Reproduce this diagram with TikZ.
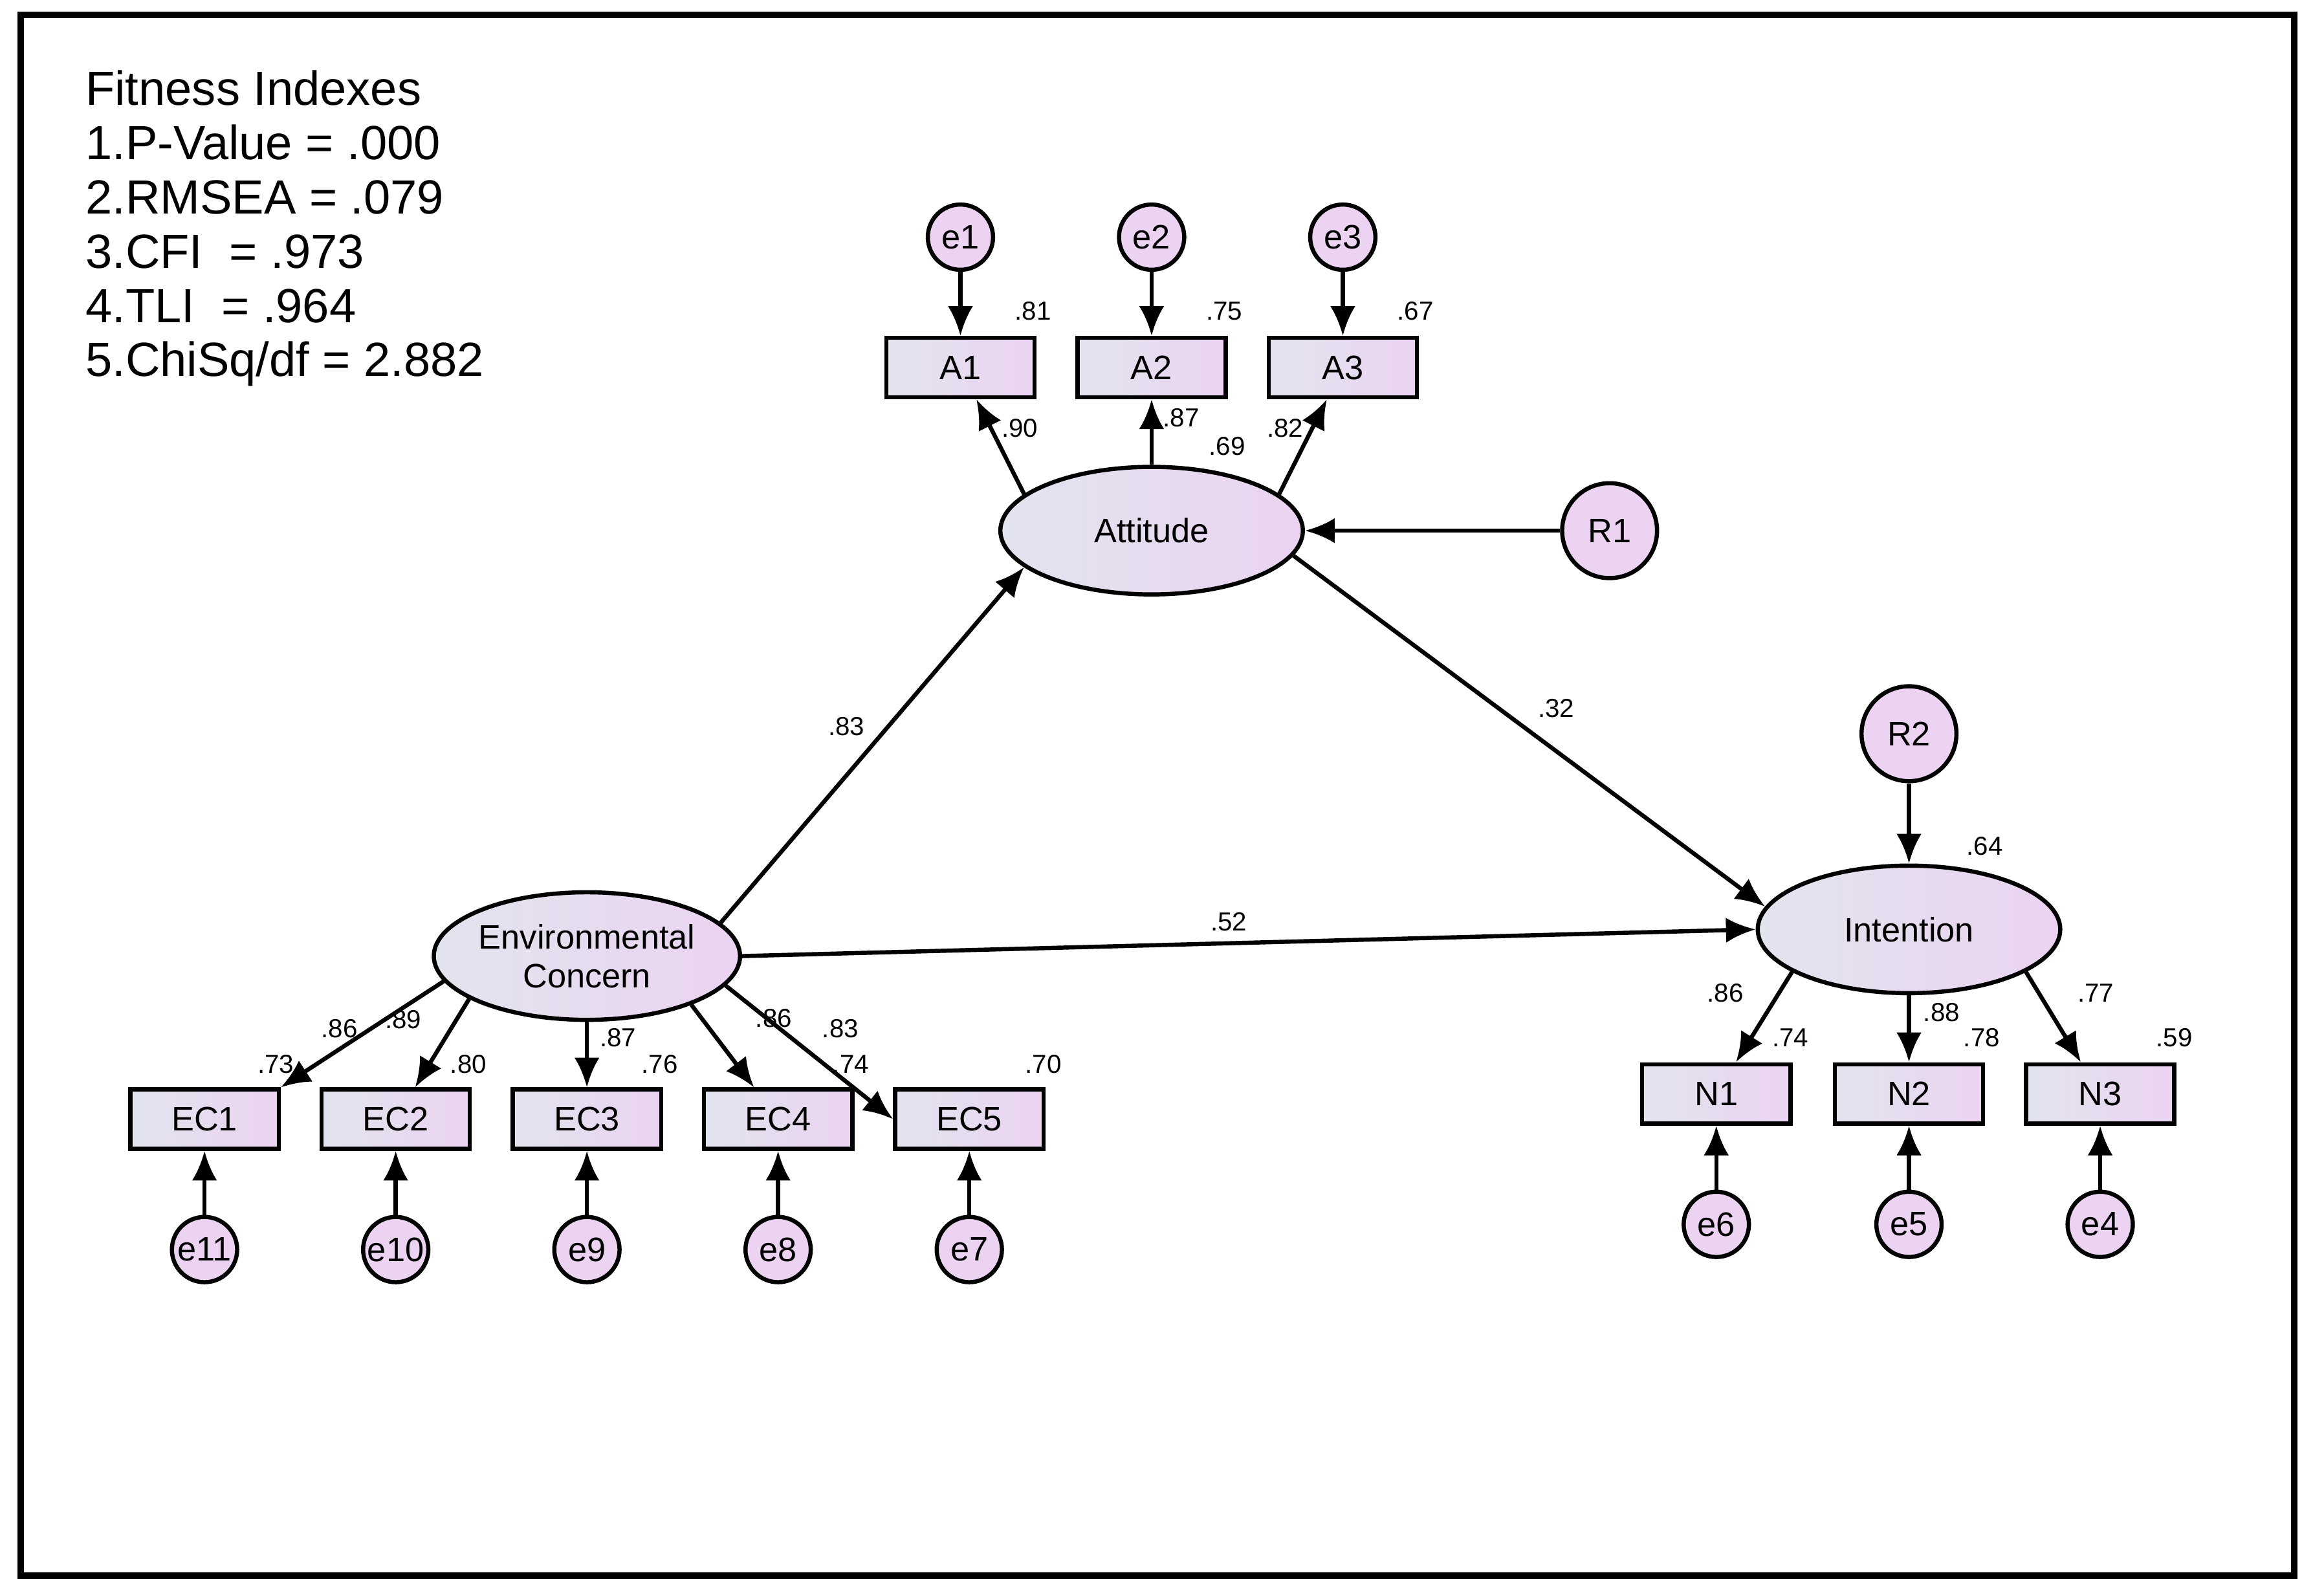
\documentclass[tikz,border=0pt]{standalone}
\usepackage{fontspec}
\setmainfont{Liberation Sans}
\usetikzlibrary{arrows.meta, positioning, shapes.geometric}
\definecolor{semBlue}{HTML}{E2E4EE}
\definecolor{semPink}{HTML}{EBD3F1}

\begin{document}
\begin{tikzpicture}[
    x=0.01cm, y=-0.01cm,
    obs/.style={rectangle, draw, thick, minimum width=1cm, minimum height=0.4cm, left color=semBlue, right color=semPink, font=\fontsize{6.5}{7}\selectfont},
    lat/.style={ellipse, draw, thick, minimum width=2.04cm, minimum height=0.86cm, left color=semBlue, right color=semPink, align=center, font=\fontsize{6.5}{7.5}\selectfont, inner sep=0pt},
    err/.style={circle, draw, thick, minimum size=0.44cm, inner sep=0pt, fill=semPink, font=\fontsize{6.5}{7}\selectfont},
    res/.style={circle, draw, thick, minimum size=0.64cm, inner sep=0pt, fill=semPink, font=\fontsize{6.5}{7}\selectfont},
    arrow/.style={-{Latex[length=0.2cm, width=0.17cm]}, thick},
    est/.style={font=\fontsize{5}{6}\selectfont, inner sep=0pt},
]
    \useasboundingbox (0,0) rectangle (1568,1076);
    \draw[very thick] (14,10) rectangle (1548,1063);

    \node[anchor=north west, align=left, font=\fontsize{9.2}{10.4}\selectfont, inner sep=0pt] (fit) at (57,47)
        {Fitness Indexes\\1.P-Value = .000\\2.RMSEA = .079\\3.CFI\ \ = .973\\4.TLI\ \ = .964\\5.ChiSq/df = 2.882};

    % latent variables
    \node[lat] (att) at (777,358) {Attitude};
    \node[lat] (env) at (396,645) {Environmental\\Concern};
    \node[lat] (int) at (1288,627) {Intention};
    \node[res] (R1) at (1086,358) {R1};
    \node[res] (R2) at (1288,495) {R2};

    % attitude indicators
    \foreach \i/\x/\a in {1/648/164, 2/777/90, 3/906/16} {
        \node[obs] (A\i) at (\x,248) {A\i};
        \node[err] (e\i) at (\x,160) {e\i};
        \draw[arrow] (e\i) -- (A\i);
        \draw[arrow] (att.\a) -- (A\i);
    }

    % environmental concern indicators
    \foreach \i/\x/\e in {1/138/11, 2/267/10, 3/396/9, 4/525/8, 5/654/7} {
        \node[obs] (EC\i) at (\x,755) {EC\i};
        \node[err] (e\e) at (\x,843) {e\e};
        \draw[arrow] (e\e) -- (EC\i);
    }
    \draw[arrow] (env.190) -- (EC1.north east);
    \draw[arrow] (env.200) -- (EC2);
    \draw[arrow] (env.270) -- (EC3);
    \draw[arrow] (env.335) -- (EC4);
    \draw[arrow] (env.348) -- (EC5.west);

    % intention indicators
    \foreach \i/\x/\e/\a in {1/1158/6/200, 2/1288/5/270, 3/1417/4/340} {
        \node[obs] (N\i) at (\x,738) {N\i};
        \node[err] (e\e) at (\x,826) {e\e};
        \draw[arrow] (e\e) -- (N\i);
        \draw[arrow] (int.\a) -- (N\i);
    }

    % structural paths
    \draw[arrow] (env.14) -- (att.196);
    \draw[arrow] (env.0) -- (int.180);
    \draw[arrow] (att.350) -- (int.171);
    \draw[arrow] (R1) -- (att);
    \draw[arrow] (R2) -- (int);

    % estimates
    \foreach \v/\x/\y in {.81/697/210, .75/826/210, .67/955/210, .90/688/289, .87/797/282,
        .69/828/301, .82/867/289, .83/571/490, .32/1050/478, .52/829/622, .64/1339/571,
        .86/229/694, .89/272/688, .80/316/718, .73/186/718, .87/417/700, .76/445/718,
        .86/522/687, .83/567/694, .74/574/718, .70/704/718, .86/1164/670, .88/1310/683,
        .74/1208/700, .78/1337/700, .77/1414/670, .59/1467/700}
        \node[est] at (\x,\y) {\v};
\end{tikzpicture}
\end{document}
